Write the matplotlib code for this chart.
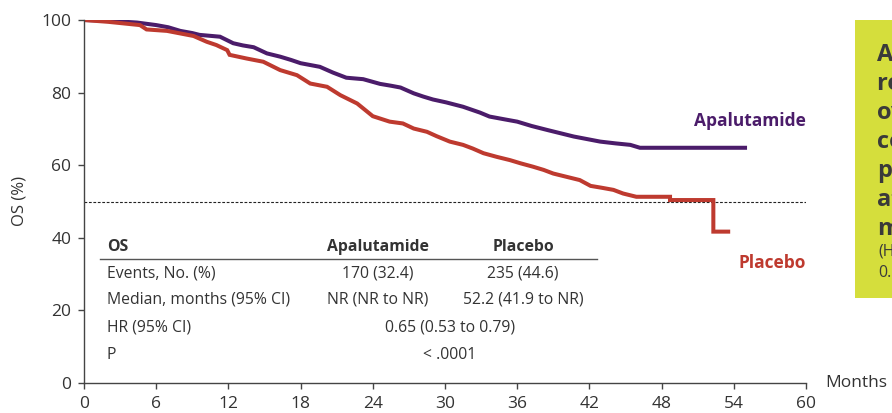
import matplotlib
matplotlib.use("Agg")
import matplotlib.pyplot as plt
from matplotlib.patches import Rectangle

plt.rcParams['font.family'] = ['Open Sans', 'DejaVu Sans']

# ---- data (curve vertices; repeated times = vertical drops) ----
apa_t = [0, 2, 4.4, 6.0, 7.0, 8.0, 9.0, 9.6, 11.3, 12.4, 13.2, 14.1, 15.2, 16.3, 17.2,
         18.0, 19.6, 20.7, 21.8, 23.2, 24.6, 25.5, 26.3, 27.4, 28.2, 29.0, 30.1, 31.5,
         32.9, 33.7, 35.0, 36.0, 37.2, 38.5, 39.6, 40.7, 41.8, 42.9, 44.2, 45.4, 46.2, 55.1]
apa_s = [100, 99.8, 99.3, 98.6, 98.0, 97.0, 96.4, 95.9, 95.4, 93.6, 93.0, 92.5, 90.8, 89.9,
         89.0, 88.1, 87.1, 85.5, 84.1, 83.7, 82.4, 81.9, 81.4, 79.8, 78.9, 78.1, 77.3, 76.1,
         74.5, 73.4, 72.6, 72.0, 70.8, 69.7, 68.8, 67.9, 67.2, 66.5, 66.0, 65.6, 64.8, 64.8]

pla_t = [0, 2, 4.65, 5.2, 6.9, 8.0, 9.1, 10.2, 11.0, 11.9, 12.1, 13.5, 14.9, 16.3, 17.7,
         18.8, 20.2, 21.3, 22.7, 24.0, 25.4, 26.5, 27.4, 28.5, 29.3, 30.4, 31.5, 32.3, 33.2,
         34.3, 35.4, 36.3, 37.3, 38.2, 39.0, 40.1, 41.2, 42.1, 43.0, 44.0, 44.8, 45.9, 48.7,
         48.7, 52.3, 52.3, 53.7]
pla_s = [100, 99.5, 98.6, 97.4, 97.0, 96.3, 95.6, 94.0, 93.1, 91.7, 90.4, 89.4, 88.5, 86.2,
         84.8, 82.5, 81.6, 79.3, 77.0, 73.5, 72.0, 71.5, 70.1, 69.2, 68.0, 66.5, 65.6, 64.6,
         63.3, 62.3, 61.4, 60.5, 59.6, 58.7, 57.7, 56.8, 55.9, 54.3, 53.8, 53.2, 52.2, 51.3,
         51.3, 50.4, 50.4, 41.7, 41.7]

x_ticks = [0, 6, 12, 18, 24, 30, 36, 42, 48, 54, 60]
y_ticks = [0, 20, 40, 60, 80, 100]

table_header = ["OS", "Apalutamide", "Placebo"]
table_rows = [
    ["Events, No. (%)", "170 (32.4)", "235 (44.6)"],
    ["Median, months (95% CI)", "NR (NR to NR)", "52.2 (41.9 to NR)"],
]
hr_row = ["HR (95% CI)", "0.65 (0.53 to 0.79)"]
p_row = ["P", "< .0001"]

box_bold = ["Apalutamide", "reduced the", "overall", "compared", "placebo", "at the", "median"]
box_norm = ["(HR,", "0.65"]

APA = '#4b1c6a'
PLA = '#be3a2f'
TXT = '#333333'

W, H = 892, 413
fig = plt.figure(figsize=(W / 100, H / 100), dpi=100)
ax = fig.add_axes([84 / W, 1 - 383 / H, 722 / W, 363 / H])

ax.plot(apa_t, apa_s, color=APA, lw=2.9, solid_joinstyle='miter', solid_capstyle='butt')
ax.plot(pla_t, pla_s, color=PLA, lw=2.9, solid_joinstyle='miter', solid_capstyle='butt')
ax.axhline(50, color='#222222', lw=0.8, ls=(0, (2.5, 1.5)), zorder=1)

ax.set_xlim(0, 60)
ax.set_ylim(0, 100)
ax.set_xticks(x_ticks)
ax.set_yticks(y_ticks)
for s in ['top', 'right']:
    ax.spines[s].set_visible(False)
for s in ['left', 'bottom']:
    ax.spines[s].set_color('#444444')
    ax.spines[s].set_linewidth(1.0)
ax.tick_params(axis='both', colors='#444444', labelcolor=TXT, labelsize=12.5,
               length=4, width=1.0, pad=5)
ax.set_ylabel("OS (%)", fontsize=12, color=TXT, labelpad=10)
ax.text(1.026, 0, "Months", transform=ax.transAxes, ha='left', va='center',
        fontsize=12.5, color=TXT)

ax.text(60, 72.3, "Apalutamide", color=APA, fontsize=12.5, fontweight='bold',
        ha='right', va='center')
ax.text(60, 33.0, "Placebo", color=PLA, fontsize=12.5, fontweight='bold',
        ha='right', va='center')

# table
def fx(px):
    return (px - 84) / 722

def fy(py):
    return (383 - py) / 363

tr = ax.transAxes
FS = 11.3
col_x = [fx(107), fx(378), fx(523)]
ax.text(col_x[0], fy(247), table_header[0], transform=tr, ha='left', va='center',
        fontsize=FS, fontweight='bold', color=TXT)
ax.text(col_x[1], fy(247), table_header[1], transform=tr, ha='center', va='center',
        fontsize=FS, fontweight='bold', color=TXT)
ax.text(col_x[2], fy(247), table_header[2], transform=tr, ha='center', va='center',
        fontsize=FS, fontweight='bold', color=TXT)
ax.plot([fx(100), fx(597)], [fy(259), fy(259)], transform=tr, color='#555555', lw=1.0)

row_y = [273, 300, 327, 355]
for r, yy in zip(table_rows, row_y[:2]):
    ax.text(col_x[0], fy(yy), r[0], transform=tr, ha='left', va='center', fontsize=FS, color=TXT)
    ax.text(col_x[1], fy(yy), r[1], transform=tr, ha='center', va='center', fontsize=FS, color=TXT)
    ax.text(col_x[2], fy(yy), r[2], transform=tr, ha='center', va='center', fontsize=FS, color=TXT)
for r, yy in zip([hr_row, p_row], row_y[2:]):
    ax.text(col_x[0], fy(yy), r[0], transform=tr, ha='left', va='center', fontsize=FS, color=TXT)
    ax.text(fx(450), fy(yy), r[1], transform=tr, ha='center', va='center', fontsize=FS, color=TXT)

# right callout box
fig.patches.append(Rectangle((855 / W, 1 - 298 / H), 0.2, (298 - 20) / H,
                             transform=fig.transFigure, facecolor='#d5de3c',
                             edgecolor='none', zorder=0))
for i, t in enumerate(box_bold):
    fig.text(877 / W, 1 - (55 + 29 * i) / H, t, ha='left', va='center',
             fontsize=17, fontweight='bold', color='#3a3a3a')
for i, t in enumerate(box_norm):
    fig.text(878 / W, 1 - (252 + 21 * i) / H, t, ha='left', va='center',
             fontsize=11.5, color='#3a3a3a')

fig.savefig("out.png", dpi=100)
